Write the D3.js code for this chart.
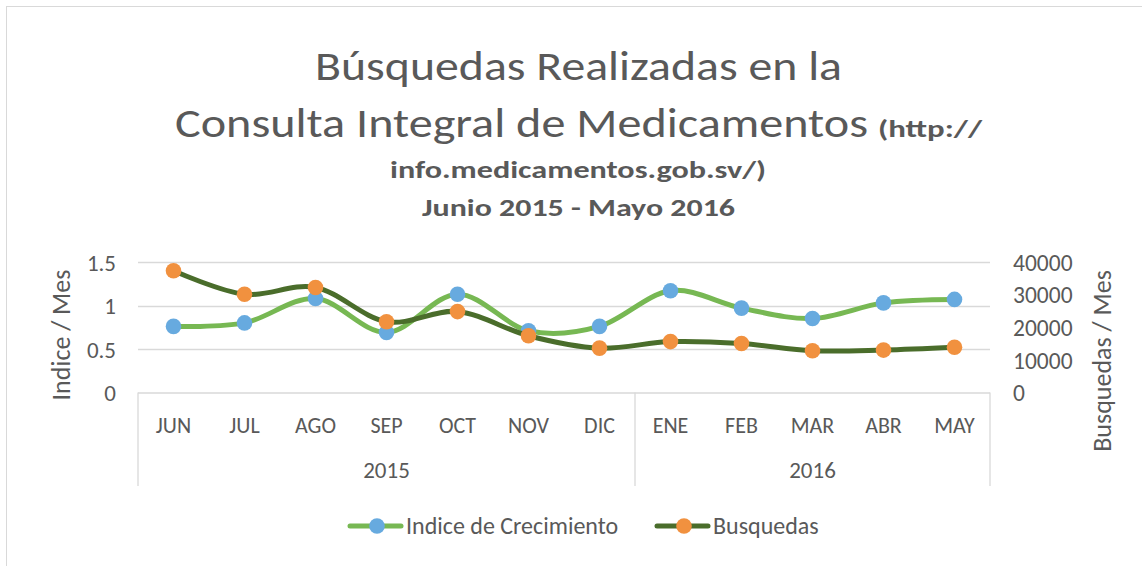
<!DOCTYPE html>
<html><head><meta charset="utf-8">
<script src="https://cdn.jsdelivr.net/npm/d3@7"></script>
<style>
html,body{margin:0;padding:0;background:#fff;}
svg{display:block;font-family:Carlito,Lato,"Open Sans",sans-serif;}
</style></head>
<body>
<svg id="chart" width="1142" height="566"></svg>
<script>
// ---- data ----
const months = ["JUN","JUL","AGO","SEP","OCT","NOV","DIC","ENE","FEB","MAR","ABR","MAY"];
const years = [{label:"2015", start:0, count:7},{label:"2016", start:7, count:5}];
const indice = [0.76, 0.80, 1.08, 0.69, 1.13, 0.71, 0.76, 1.17, 0.97, 0.85, 1.03, 1.07];
const busquedas = [37300, 30100, 32200, 21700, 24800, 17400, 13600, 15600, 15000, 12800, 13000, 13850];
const leftTicks = [0, 0.5, 1, 1.5];
const rightTicks = [0, 10000, 20000, 30000, 40000];
const seriesNames = ["Indice de Crecimiento", "Busquedas"];

// ---- layout ----
const FONT = "Carlito, Lato, 'Open Sans', sans-serif";
const svg = d3.select("#chart");
const textColor = "#595959", gridColor = "#d9d9d9";
const lightGreen = "#77b853", darkGreen = "#4a6d2b", blue = "#67aadf", orange = "#f1913f";
const plot = {left:138, right:990, top:262, bottom:392.5};

svg.append("rect").attr("x",6.5).attr("y",6.5).attr("width",1150).attr("height",580)
  .attr("fill","#fff").attr("stroke","#d9d9d9").attr("stroke-width",1);

const x = d3.scaleBand().domain(months).range([plot.left, plot.right]).padding(0);
const yL = d3.scaleLinear().domain([0,1.5]).range([plot.bottom, plot.top]);
const yR = d3.scaleLinear().domain([0,40000]).range([plot.bottom, plot.top]);

// gridlines
svg.append("g").selectAll("line").data(leftTicks.filter(d=>d>0)).join("line")
  .attr("x1",plot.left).attr("x2",plot.right)
  .attr("y1",d=>Math.round(yL(d))+0.5).attr("y2",d=>Math.round(yL(d))+0.5)
  .attr("stroke",gridColor).attr("stroke-width",1.3);

// left axis
const gL = svg.append("g").attr("transform",`translate(${plot.left-22},0)`)
  .call(d3.axisLeft(yL).tickValues(leftTicks).tickSize(0).tickPadding(0).tickFormat(d=>String(d)))
  .attr("font-family",FONT).attr("font-size",null);
gL.select(".domain").remove();
gL.selectAll("text").attr("fill",textColor).style("font-size","23px").attr("dy","0.35em");

// right axis
const gR = svg.append("g").attr("transform",`translate(${plot.right+23},0)`)
  .call(d3.axisRight(yR).tickValues(rightTicks).tickSize(0).tickPadding(0).tickFormat(d=>String(d)))
  .attr("font-family",FONT).attr("font-size",null);
gR.select(".domain").remove();
gR.selectAll("text").attr("fill",textColor).style("font-size","23.5px").attr("dy","0.35em");

// category axis box
const catBottom = 486;
svg.append("line").attr("x1",plot.left).attr("x2",plot.right)
  .attr("y1",plot.bottom+0.5).attr("y2",plot.bottom+0.5).attr("stroke",gridColor).attr("stroke-width",1.3);
const seps = [0].concat(years.map(y=>y.start+y.count));
svg.append("g").selectAll("line").data(seps).join("line")
  .attr("x1",d=> d===months.length ? plot.right : x(months[d]))
  .attr("x2",d=> d===months.length ? plot.right : x(months[d]))
  .attr("y1",plot.bottom).attr("y2",catBottom).attr("stroke",gridColor).attr("stroke-width",1.3);

// month labels via axis
const gX = svg.append("g").attr("transform",`translate(0,${plot.bottom})`)
  .call(d3.axisBottom(x).tickSize(0).tickPadding(0))
  .attr("font-family",FONT).attr("font-size",null);
gX.select(".domain").remove();
gX.selectAll("text").attr("fill",textColor).style("font-size","22px").attr("y",40).attr("dy",0);

// year labels
svg.append("g").selectAll("text").data(years).join("text")
  .attr("x",d=> (x(months[d.start]) + x(months[d.start+d.count-1]) + x.bandwidth())/2)
  .attr("y",478).attr("text-anchor","middle").attr("fill",textColor).style("font-size","23px")
  .text(d=>d.label);

// axis titles
svg.append("text").attr("transform","translate(70,335) rotate(-90)").attr("text-anchor","middle")
  .attr("fill",textColor).style("font-size","26px").text("Indice / Mes");
svg.append("text").attr("transform","translate(1111,361) rotate(-90)").attr("text-anchor","middle")
  .attr("fill",textColor).style("font-size","26px").text("Busquedas / Mes");

// lines
const cx = (d,i)=> x(months[i]) + x.bandwidth()/2;
const lineL = d3.line().x(cx).y(d=>yL(d)).curve(d3.curveCatmullRom.alpha(0));
const lineR = d3.line().x(cx).y(d=>yR(d)).curve(d3.curveCatmullRom.alpha(0));
svg.append("path").datum(indice).attr("d",lineL).attr("fill","none")
  .attr("stroke",lightGreen).attr("stroke-width",5).attr("stroke-linecap","round");
svg.append("g").selectAll("circle").data(indice).join("circle")
  .attr("cx",cx).attr("cy",d=>yL(d)).attr("r",7.8).attr("fill",blue);
svg.append("path").datum(busquedas).attr("d",lineR).attr("fill","none")
  .attr("stroke",darkGreen).attr("stroke-width",5).attr("stroke-linecap","round");
svg.append("g").selectAll("circle").data(busquedas).join("circle")
  .attr("cx",cx).attr("cy",d=>yR(d)).attr("r",7.8).attr("fill",orange);

// legend
const legend = [
  {name:seriesNames[0], line:lightGreen, mark:blue, x0:348},
  {name:seriesNames[1], line:darkGreen, mark:orange, x0:655}
];
const lg = svg.append("g").selectAll("g").data(legend).join("g");
lg.append("line").attr("x1",d=>d.x0+2).attr("x2",d=>d.x0+53).attr("y1",526).attr("y2",526)
  .attr("stroke",d=>d.line).attr("stroke-width",5).attr("stroke-linecap","round");
lg.append("circle").attr("cx",d=>d.x0+29).attr("cy",526).attr("r",7.8).attr("fill",d=>d.mark);
lg.append("text").attr("x",d=>d.x0+58).attr("y",534).attr("fill",textColor).style("font-size","24px")
  .text(d=>d.name);

// title
const t = svg.append("g").attr("fill",textColor);
t.append("text").attr("x",315).attr("y",80).style("font-size","40px").style("font-weight","300")
  .attr("textLength",527).attr("lengthAdjust","spacingAndGlyphs").text("Búsquedas Realizadas en la");
t.append("text").attr("x",175).attr("y",137).style("font-size","40px").style("font-weight","300")
  .attr("textLength",693).attr("lengthAdjust","spacingAndGlyphs").text("Consulta Integral de Medicamentos");
t.append("text").attr("x",878).attr("y",137).style("font-size","24px").style("font-weight","bold")
  .attr("textLength",104).attr("lengthAdjust","spacingAndGlyphs").text("(http://");
t.append("text").attr("x",390).attr("y",178).style("font-size","24px").style("font-weight","bold")
  .attr("textLength",376).attr("lengthAdjust","spacingAndGlyphs").text("info.medicamentos.gob.sv/)");
t.append("text").attr("x",422).attr("y",216).style("font-size","24px").style("font-weight","bold")
  .attr("textLength",313).attr("lengthAdjust","spacingAndGlyphs").text("Junio 2015 - Mayo 2016");
</script>
</body></html>
